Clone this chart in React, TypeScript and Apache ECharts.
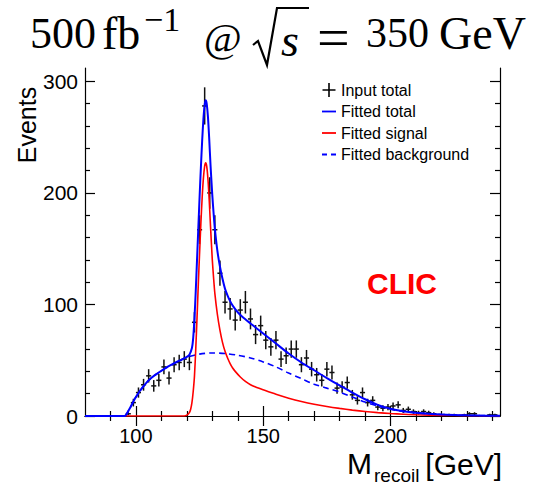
import React, { useEffect, useRef } from "react";
import * as echarts from "echarts";

// Input total: bin centres (GeV) and event counts
const binCenters = [
  97, 99, 101, 103, 105, 107, 109, 111, 113, 115, 117, 119, 121, 123, 125, 127, 129, 131, 133, 135,
  137, 139, 141, 143, 145, 147, 149, 151, 153, 155, 157, 159, 161, 163, 165, 167, 169, 171, 173, 175,
  177, 179, 181, 183, 185, 187, 189, 191, 193, 195, 197, 199, 201, 203, 205, 207, 209, 211, 213, 215,
  217, 219, 221, 223, 225, 227, 229, 231, 233, 235, 237, 239, 241,
];
const eventCounts = [
  2, 12, 21, 28, 36, 27, 32, 44, 34, 46, 48, 51, 48, 84, 167, 278, 200, 167, 128, 102,
  96, 86, 95, 102, 87, 73, 81, 68, 62, 68, 51, 54, 60, 60, 46, 52, 42, 37, 32, 42,
  39, 25, 26, 30, 19, 14, 21, 12, 14, 8, 7, 8, 9, 10, 5, 6, 4, 3, 4, 3,
  2, 1, 1, 1, 1, 0, 1, 2, 2, 0, 0, 1, 1,
];

// Fitted total
const totalX = [
  80, 95.5, 96, 97, 98, 99, 100, 102, 104, 106, 108, 110, 112, 114, 116, 118, 120, 121, 122, 122.5,
  123, 123.5, 124, 124.5, 125, 125.5, 126, 126.5, 127, 127.4, 127.8, 128.3, 128.8, 129.3, 130, 130.5,
  131, 132, 133, 134, 135, 136, 137, 138, 140, 142, 145, 150, 155, 160, 165, 170, 175, 180, 185, 190,
  195, 200, 205, 210, 215, 220, 225, 230, 235, 243,
];
const totalY = [
  0, 0, 0.8, 4.5, 8.5, 13, 17, 24, 29.5, 34, 37.5, 40.5, 43.5, 46, 48.5, 50.5, 53, 55, 61, 70,
  88, 112, 140, 168, 196, 222, 246, 266, 279, 283, 280, 268, 248, 225, 198, 182,
  168, 148, 134, 123, 114, 108, 103, 99, 93, 88.5, 83, 74, 65, 56, 48, 41, 34, 27.5, 21, 15,
  10, 6.5, 4.3, 2.9, 2, 1.3, 0.9, 0.6, 0.4, 0.2,
];

// Fitted signal
const signalX = [
  93, 119, 120, 121, 121.5, 122, 122.5, 123, 123.5, 124, 124.5, 125, 125.5, 126, 126.5, 127, 127.4,
  127.8, 128.3, 128.8, 129.3, 130, 130.5, 131, 132, 133, 134, 135, 136, 137, 138, 139, 141, 143, 145,
  147, 150, 155, 160, 165, 170, 175, 180, 185, 190, 195, 200, 205, 210, 220, 230, 243,
];
const signalY = [
  0, 0, 0.8, 3, 6, 12, 22, 36, 60, 88, 118, 146, 172, 195, 213, 224, 227,
  224, 212, 193, 170, 140, 124, 110, 91, 77, 66, 58, 52, 47, 43, 40, 35, 31, 28,
  26, 23.5, 19.5, 16, 13, 10.5, 8.5, 6.8, 5.3, 4, 3, 2.2, 1.6, 1.1, 0.6, 0.3, 0.1,
];

// Fitted background
const backgroundX = [
  96, 98, 100, 105, 110, 115, 120, 125, 130, 135, 140, 145, 150, 155, 160, 165, 170, 175, 180, 185,
  190, 195, 200, 205, 210, 215, 220, 230, 243,
];
const backgroundY = [
  0, 8.5, 17, 32, 40.5, 47, 52.5, 55.5, 56.5, 56, 54.5, 52, 48.5, 44, 38.5, 33.5, 28.5, 25, 21.5, 17,
  12.5, 9, 6, 4, 2.8, 1.9, 1.2, 0.5, 0.2,
];

const xMajorTicks = [100, 150, 200];
const xMinorTicks = [90, 110, 120, 130, 140, 160, 170, 180, 190, 210, 220, 230, 240];
const yMajorTicks = [0, 100, 200, 300];
const yMinorTicks = [20, 40, 60, 80, 120, 140, 160, 180, 220, 240, 260, 280];

const SANS = "Liberation Sans";
const SERIF = "Liberation Serif";

const zip = (xs: number[], ys: number[]) => xs.map((x, i) => [x, ys[i]]);

export default function App() {
  const ref = useRef<HTMLDivElement>(null);

  useEffect(() => {
    if (!ref.current) return;
    const chart = echarts.init(ref.current, undefined, { renderer: "svg" });

    const axisLine = { show: true, lineStyle: { color: "#000", width: 1.2 } };
    const xBase = { type: "value", min: 80, max: 243, gridIndex: 0, splitLine: { show: false } };
    const yBase = { type: "value", min: 0, max: 312, gridIndex: 0, splitLine: { show: false } };
    const tick = (vals: number[], len: number) => ({
      show: true,
      inside: true,
      length: len,
      customValues: vals,
      lineStyle: { color: "#000", width: 1.2 },
    });
    const label = { fontSize: 20, fontFamily: SANS, color: "#000" };

    const option: any = {
      animation: false,
      backgroundColor: "#fff",
      grid: { left: 85, right: 40, top: 68, bottom: 69, containLabel: false },
      xAxis: [
        {
          ...xBase,
          position: "bottom",
          axisLine,
          axisTick: tick(xMajorTicks, 10),
          axisLabel: { ...label, margin: 10, customValues: xMajorTicks },
        },
        { ...xBase, position: "bottom", axisLine: { show: false }, axisTick: tick(xMinorTicks, 5), axisLabel: { show: false } },
        { ...xBase, position: "top", axisLine, axisTick: tick(xMajorTicks, 10), axisLabel: { show: false } },
        { ...xBase, position: "top", axisLine: { show: false }, axisTick: tick(xMinorTicks, 5), axisLabel: { show: false } },
      ],
      yAxis: [
        {
          ...yBase,
          position: "left",
          axisLine,
          axisTick: tick(yMajorTicks, 10),
          axisLabel: { ...label, fontSize: 21, margin: 7, customValues: yMajorTicks },
        },
        { ...yBase, position: "left", axisLine: { show: false }, axisTick: tick(yMinorTicks, 5), axisLabel: { show: false } },
        { ...yBase, position: "right", axisLine, axisTick: tick(yMajorTicks, 10), axisLabel: { show: false } },
        { ...yBase, position: "right", axisLine: { show: false }, axisTick: tick(yMinorTicks, 5), axisLabel: { show: false } },
      ],
      legend: {
        orient: "vertical",
        left: 317,
        top: 77,
        itemWidth: 14,
        itemHeight: 14,
        itemGap: 5.5,
        textStyle: { fontSize: 16, fontFamily: SANS, color: "#000", lineHeight: 16 },
        data: [
          { name: "Input total", icon: "path://M0,6.2h13v1.6h-13z M5.7,0h1.6v14h-1.6z" },
          { name: "Fitted total", icon: "path://M0,0h14v1.8h-14z" },
          { name: "Fitted signal", icon: "path://M0,0h14v1.8h-14z" },
          { name: "Fitted background", icon: "path://M0,0h5v1.8h-5z M9,0h5v1.8h-5z" },
        ],
      },
      series: [
        {
          name: "Input total",
          type: "custom",
          xAxisIndex: 0,
          yAxisIndex: 0,
          itemStyle: { color: "#000" },
          encode: { x: 0, y: 1 },
          data: zip(binCenters, eventCounts),
          z: 2,
          renderItem: (params: any, api: any) => {
            const x = api.value(0);
            const y = api.value(1);
            if (!y) return;
            // Poisson uncertainty of the bin content
            const err = Math.sqrt(y);
            const top = api.coord([x, y + err]);
            const bot = api.coord([x, Math.max(0, y - err)]);
            const l = api.coord([x - 1, y]);
            const r = api.coord([x + 1, y]);
            const st = { stroke: "#111", lineWidth: 1.5 };
            return {
              type: "group",
              children: [
                { type: "line", shape: { x1: top[0], y1: top[1], x2: bot[0], y2: bot[1] }, style: st },
                { type: "line", shape: { x1: l[0], y1: l[1], x2: r[0], y2: r[1] }, style: st },
              ],
            };
          },
        },
        {
          name: "Fitted background",
          type: "line",
          xAxisIndex: 0,
          yAxisIndex: 0,
          data: zip(backgroundX, backgroundY),
          showSymbol: false,
          symbol: "none",
          smooth: 0.3,
          z: 3,
          itemStyle: { color: "#0000ff" },
          lineStyle: { color: "#0000ff", width: 1.6, type: [6, 4] },
        },
        {
          name: "Fitted signal",
          type: "line",
          xAxisIndex: 0,
          yAxisIndex: 0,
          data: zip(signalX, signalY),
          showSymbol: false,
          symbol: "none",
          smooth: 0.25,
          z: 4,
          itemStyle: { color: "#ff0000" },
          lineStyle: { color: "#ff0000", width: 1.6 },
        },
        {
          name: "Fitted total",
          type: "line",
          xAxisIndex: 0,
          yAxisIndex: 0,
          data: zip(totalX, totalY),
          showSymbol: false,
          symbol: "none",
          smooth: 0.25,
          z: 5,
          itemStyle: { color: "#0000ff" },
          lineStyle: { color: "#0000ff", width: 2 },
        },
      ],
      graphic: [
        // Title: 500 fb^-1 @ sqrt(s) = 350 GeV
        { type: "text", x: 30, y: 33, style: { text: "500", fontSize: 44, fontFamily: SERIF, fill: "#000", verticalAlign: "middle" } },
        { type: "text", x: 102, y: 33, style: { text: "fb", fontSize: 46, fontFamily: SERIF, fill: "#000", verticalAlign: "middle" } },
        { type: "text", x: 144, y: 19, style: { text: "−1", fontSize: 34, fontFamily: SERIF, fill: "#000", verticalAlign: "middle" } },
        { type: "text", x: 204, y: 37, style: { text: "@", fontSize: 41, fontFamily: SERIF, fill: "#000", verticalAlign: "middle" } },
        {
          type: "polyline",
          shape: { points: [[253, 45], [258, 41], [267, 65], [277, 8], [309, 8]] },
          style: { stroke: "#000", lineWidth: 2.2, fill: null },
        },
        { type: "text", x: 281, y: 40, style: { text: "s", fontSize: 46, fontFamily: SERIF, fontStyle: "italic", fill: "#000", verticalAlign: "middle" } },
        { type: "text", x: 317, y: 37, style: { text: "=", fontSize: 58, fontFamily: SERIF, fill: "#000", verticalAlign: "middle" } },
        { type: "text", x: 366, y: 33, style: { text: "350", fontSize: 42, fontFamily: SERIF, fill: "#000", verticalAlign: "middle" } },
        { type: "text", x: 439, y: 33, style: { text: "GeV", fontSize: 46, fontFamily: SERIF, fill: "#000", verticalAlign: "middle" } },
        // Y axis title
        {
          type: "text",
          x: 27,
          y: 125,
          rotation: Math.PI / 2,
          style: { text: "Events", fontSize: 25, fontFamily: SANS, fill: "#000", align: "center", verticalAlign: "middle" },
        },
        // X axis title
        { type: "text", x: 347, y: 463, style: { text: "M", fontSize: 30, fontFamily: SANS, fill: "#000", verticalAlign: "middle" } },
        { type: "text", x: 374, y: 475, style: { text: "recoil", fontSize: 19, fontFamily: SANS, fill: "#000", verticalAlign: "middle" } },
        { type: "text", x: 502, y: 464, style: { text: "[GeV]", fontSize: 30, fontFamily: SANS, fill: "#000", align: "right", verticalAlign: "middle" } },
        // CLIC label
        { type: "text", x: 367, y: 283, style: { text: "CLIC", fontSize: 30, fontWeight: "bold", fontFamily: SANS, fill: "#ff0000", verticalAlign: "middle" } },
      ],
    };

    chart.setOption(option);
    return () => chart.dispose();
  }, []);

  return <div ref={ref} style={{ position: "fixed", left: 0, top: 0, width: 540, height: 485 }} />;
}
